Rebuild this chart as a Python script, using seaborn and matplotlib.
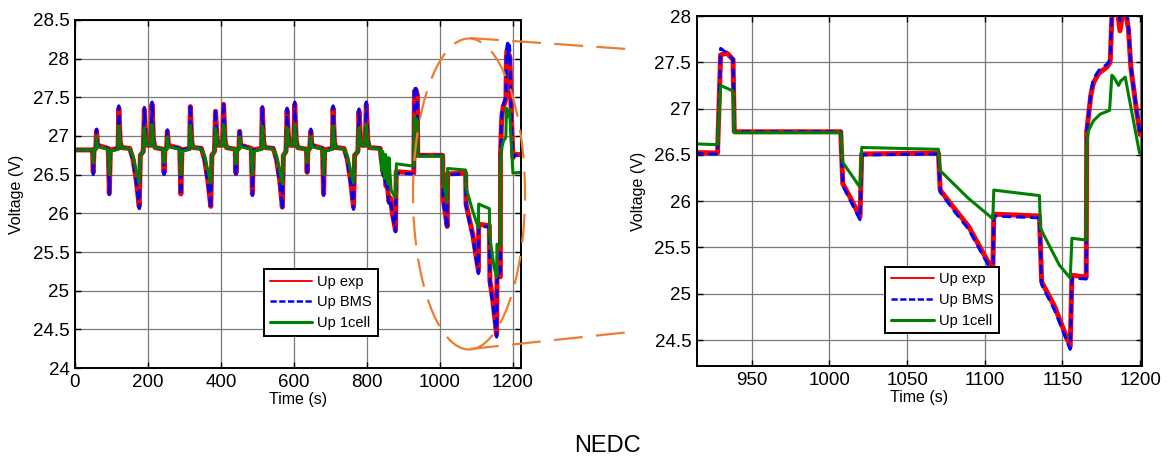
import numpy as np
import pandas as pd
import seaborn as sns
import matplotlib.pyplot as plt
from matplotlib.lines import Line2D
from matplotlib.patches import Ellipse
from matplotlib.ticker import MultipleLocator, FormatStrFormatter

# --- urban part: four ECE cycles (time in s, voltage in V)
t_urban = [0, 48, 50, 52, 57, 59, 62, 91, 94, 97, 118, 120, 124, 128, 150, 159, 168, 176, 179, 187, 190, 194, 198, 208, 211, 215, 219,
           242, 244, 246, 251, 253, 256, 287, 290, 293, 314, 316, 320, 324, 346, 355, 364, 372, 375, 382, 385, 389, 393, 404, 407, 411, 415,
           439, 441, 443, 449, 451, 454, 483, 486, 489, 511, 513, 517, 521, 543, 552, 561, 568, 571, 578, 581, 585, 589, 599, 602, 606, 610,
           634, 636, 638, 643, 646, 649, 678, 681, 684, 705, 707, 711, 715, 737, 746, 755, 763, 766, 775, 778, 782, 786, 795, 798, 802, 806]
up_exp_urban = [26.82, 26.82, 26.53, 26.82, 26.84, 27.07, 26.88, 26.84, 26.26, 26.82, 26.84, 27.36, 26.92, 26.85, 26.84, 26.70, 26.42, 26.09, 26.75, 26.80, 27.34, 26.98, 26.88, 26.88, 27.41, 26.95, 26.85,
                26.83, 26.53, 26.82, 26.84, 27.06, 26.88, 26.84, 26.25, 26.82, 26.84, 27.38, 26.92, 26.85, 26.84, 26.70, 26.42, 26.09, 26.75, 26.80, 27.32, 26.98, 26.88, 26.88, 27.41, 26.95, 26.85,
                26.83, 26.52, 26.82, 26.84, 27.06, 26.88, 26.84, 26.25, 26.82, 26.84, 27.36, 26.92, 26.85, 26.84, 26.70, 26.42, 26.08, 26.75, 26.80, 27.33, 26.98, 26.88, 26.88, 27.41, 26.95, 26.85,
                26.83, 26.53, 26.82, 26.84, 27.06, 26.88, 26.84, 26.25, 26.82, 26.84, 27.36, 26.92, 26.85, 26.84, 26.70, 26.42, 26.08, 26.75, 26.80, 27.32, 26.98, 26.88, 26.88, 27.41, 26.95, 26.85]
up_bms_urban = [26.82, 26.82, 26.50, 26.82, 26.84, 27.09, 26.88, 26.84, 26.24, 26.82, 26.84, 27.39, 26.92, 26.85, 26.84, 26.69, 26.40, 26.06, 26.75, 26.80, 27.37, 26.98, 26.88, 26.88, 27.44, 26.95, 26.85,
                26.83, 26.50, 26.82, 26.84, 27.08, 26.88, 26.84, 26.23, 26.82, 26.84, 27.41, 26.92, 26.85, 26.84, 26.69, 26.40, 26.06, 26.75, 26.80, 27.35, 26.98, 26.88, 26.88, 27.44, 26.95, 26.85,
                26.83, 26.49, 26.82, 26.84, 27.08, 26.88, 26.84, 26.23, 26.82, 26.84, 27.38, 26.92, 26.85, 26.84, 26.69, 26.40, 26.05, 26.75, 26.80, 27.36, 26.98, 26.88, 26.88, 27.44, 26.95, 26.85,
                26.83, 26.50, 26.82, 26.84, 27.09, 26.88, 26.84, 26.23, 26.82, 26.84, 27.39, 26.92, 26.85, 26.84, 26.69, 26.40, 26.05, 26.75, 26.80, 27.35, 26.98, 26.88, 26.88, 27.44, 26.95, 26.85]
up_cell_urban = [26.82, 26.82, 26.65, 26.82, 26.83, 26.99, 26.86, 26.83, 26.50, 26.80, 26.83, 27.13, 26.90, 26.85, 26.83, 26.74, 26.55, 26.39, 26.75, 26.80, 27.11, 26.95, 26.88, 26.88, 27.15, 26.92, 26.85,
                 26.83, 26.65, 26.82, 26.83, 26.99, 26.86, 26.83, 26.50, 26.80, 26.83, 27.14, 26.90, 26.85, 26.83, 26.74, 26.55, 26.39, 26.75, 26.80, 27.10, 26.95, 26.88, 26.88, 27.15, 26.92, 26.85,
                 26.83, 26.64, 26.82, 26.83, 26.99, 26.86, 26.83, 26.50, 26.80, 26.83, 27.13, 26.90, 26.85, 26.83, 26.74, 26.55, 26.38, 26.75, 26.80, 27.11, 26.95, 26.88, 26.88, 27.15, 26.92, 26.85,
                 26.83, 26.65, 26.82, 26.83, 26.99, 26.86, 26.83, 26.50, 26.80, 26.83, 27.13, 26.90, 26.85, 26.83, 26.74, 26.55, 26.39, 26.75, 26.80, 27.11, 26.95, 26.88, 26.88, 27.15, 26.92, 26.85]

# --- extra-urban part, measured and BMS model
t_eudc = [836, 839, 842, 845, 848, 852, 855, 860, 864, 870, 878, 880, 928, 930, 934, 938, 938.8, 1007.3, 1008.6, 1014,
          1019.7, 1020.8, 1070.2, 1071.3, 1080, 1089.5, 1097, 1105.2, 1105.8, 1135.2, 1136.6, 1145, 1155, 1156.1, 1165.3,
          1165.6, 1168.3, 1170, 1173.3, 1178.7, 1180.7, 1181.8, 1183, 1185, 1187, 1189, 1191, 1192.5, 1194, 1197.5, 1200, 1202, 1220]
up_exp_eudc = [26.84, 26.70, 26.62, 26.50, 26.55, 26.35, 26.40, 26.15, 26.20, 25.98, 25.78, 26.54, 26.52, 27.58, 27.60, 27.53,
               26.75, 26.75, 26.19, 26.02, 25.83, 26.51, 26.52, 26.12, 25.93, 25.73, 25.50, 25.25, 25.86, 25.84, 25.13, 24.86,
               24.43, 25.20, 25.18, 26.75, 27.15, 27.28, 27.38, 27.45, 27.50, 27.98, 28.10, 28.12, 27.84, 28.05, 28.02, 27.85,
               27.45, 27.00, 26.72, 26.76, 26.76]
up_bms_eudc = [26.84, 26.69, 26.60, 26.48, 26.53, 26.33, 26.38, 26.13, 26.18, 25.96, 25.76, 26.52, 26.51, 27.65, 27.60, 27.53,
               26.75, 26.75, 26.17, 25.99, 25.80, 26.50, 26.51, 26.10, 25.90, 25.70, 25.47, 25.22, 25.84, 25.82, 25.10, 24.82,
               24.40, 25.17, 25.16, 26.75, 27.18, 27.32, 27.41, 27.48, 27.53, 28.05, 28.15, 28.20, 27.95, 28.18, 28.12, 27.88,
               27.45, 27.00, 26.72, 26.75, 26.75]

# --- extra-urban part, single cell model
t_cell_eudc = [836, 840, 843, 848, 851, 857, 860, 866, 872, 878, 880.5, 928, 930, 938, 938.8, 1007.3, 1008.6, 1019.7, 1020.8,
               1070.2, 1071.3, 1089.5, 1105.2, 1105.8, 1135.2, 1135.8, 1140, 1148, 1155, 1156.1, 1165.3, 1165.6, 1166.7, 1170,
               1174.3, 1180.3, 1181.8, 1183, 1186.1, 1187.6, 1190.4, 1199.6, 1220]
up_cell_eudc = [26.83, 26.55, 26.80, 26.45, 26.76, 26.38, 26.72, 26.30, 26.25, 26.20, 26.64, 26.61, 27.25, 27.19, 26.74, 26.74,
                26.42, 26.15, 26.58, 26.56, 26.33, 26.03, 25.81, 26.12, 26.06, 25.71, 25.57, 25.31, 25.17, 25.60, 25.58, 26.60,
                26.76, 26.87, 26.94, 26.98, 27.36, 27.34, 27.25, 27.30, 27.34, 26.52, 26.53]

labels = ['Up exp', 'Up BMS', 'Up 1cell']

df_meas = pd.DataFrame({'time': t_urban + t_eudc,
                        'exp': up_exp_urban + up_exp_eudc,
                        'bms': up_bms_urban + up_bms_eudc})
df_cell = pd.DataFrame({'time': t_urban + t_cell_eudc,
                        'cell': up_cell_urban + up_cell_eudc})

sns.set_style('white')
plt.rcParams['font.family'] = ['Liberation Sans', 'DejaVu Sans']
plt.rcParams['text.color'] = 'black'
plt.rcParams['axes.labelcolor'] = 'black'

W, H = 1171, 461
fig = plt.figure(figsize=(W / 100, H / 100), dpi=100)


def px(x, y):
    return x / W, 1 - y / H


def draw_panel(ax, xlim, ylim, xstep, yticks):
    sns.lineplot(data=df_meas, x='time', y='exp', color='#ff0000', lw=3.6,
                 estimator=None, sort=False, ax=ax)
    sns.lineplot(data=df_meas, x='time', y='bms', color='#0000ff', lw=2.2,
                 linestyle=(0, (3, 1.6)), estimator=None, sort=False, ax=ax)
    sns.lineplot(data=df_cell, x='time', y='cell', color='#008000', lw=2.2,
                 estimator=None, sort=False, ax=ax)
    ax.set_xlim(*xlim)
    ax.set_ylim(*ylim)
    ax.xaxis.set_major_locator(MultipleLocator(xstep))
    ax.set_yticks(yticks)
    ax.yaxis.set_major_formatter(FormatStrFormatter('%g'))
    ax.grid(True, color='#7a7a7a', lw=0.9)
    ax.tick_params(direction='in', bottom=True, left=True, top=True, right=True,
                   length=4, width=1, labelsize=13.5, colors='black', pad=4)
    for s in ax.spines.values():
        s.set_color('black')
        s.set_linewidth(1.4)
    ax.set_xlabel('Time (s)', fontsize=11.5, labelpad=1, color='black')
    ax.set_ylabel('Voltage (V)', fontsize=11.5, labelpad=6, color='black')

    handles = [Line2D([], [], color='#ff0000', lw=1.4),
               Line2D([], [], color='#0000ff', lw=1.8, linestyle=(0, (2.5, 1))),
               Line2D([], [], color='#008000', lw=2.2)]
    leg = ax.legend(handles, labels, loc='lower left', bbox_to_anchor=(0.424, 0.093),
                    borderaxespad=0, fontsize=10.5, frameon=True, fancybox=False,
                    edgecolor='black', framealpha=1, handlelength=2.9,
                    handletextpad=0.35, labelspacing=0.45, borderpad=0.4)
    leg.get_frame().set_linewidth(1.4)
    for txt in leg.get_texts():
        txt.set_color('black')


ax1 = fig.add_axes([75 / W, 1 - 368 / H, 445.7 / W, 348 / H])
draw_panel(ax1, (0, 1221), (24, 28.5), 200, np.arange(24, 28.51, 0.5))

ax2 = fig.add_axes([696.7 / W, 1 - 366 / H, 445 / W, 350 / H])
draw_panel(ax2, (914.6, 1201), (24.22, 28.0), 50, np.arange(24.5, 28.01, 0.5))

# zoom marker: ellipse around the EUDC part and connector lines
orange = '#ed7d31'
cx, cy = px(469, 194)
fig.add_artist(Ellipse((cx, cy), 112 / W, 311 / H, transform=fig.transFigure,
                       fill=False, edgecolor=orange, lw=1.6, linestyle=(0, (13, 6))))
for (x0, y0), (x1, y1) in [((470, 38), (627, 49)), ((470, 349), (630, 332))]:
    a, b = px(x0, y0)
    c, d = px(x1, y1)
    fig.add_artist(Line2D([a, c], [b, d], transform=fig.transFigure, color=orange,
                          lw=1.6, linestyle=(0, (13, 6))))

tx, ty = px(607, 446)
fig.text(tx, ty, 'NEDC', ha='center', va='center', fontsize=17, color='black')

fig.savefig('out.png', dpi=100)
